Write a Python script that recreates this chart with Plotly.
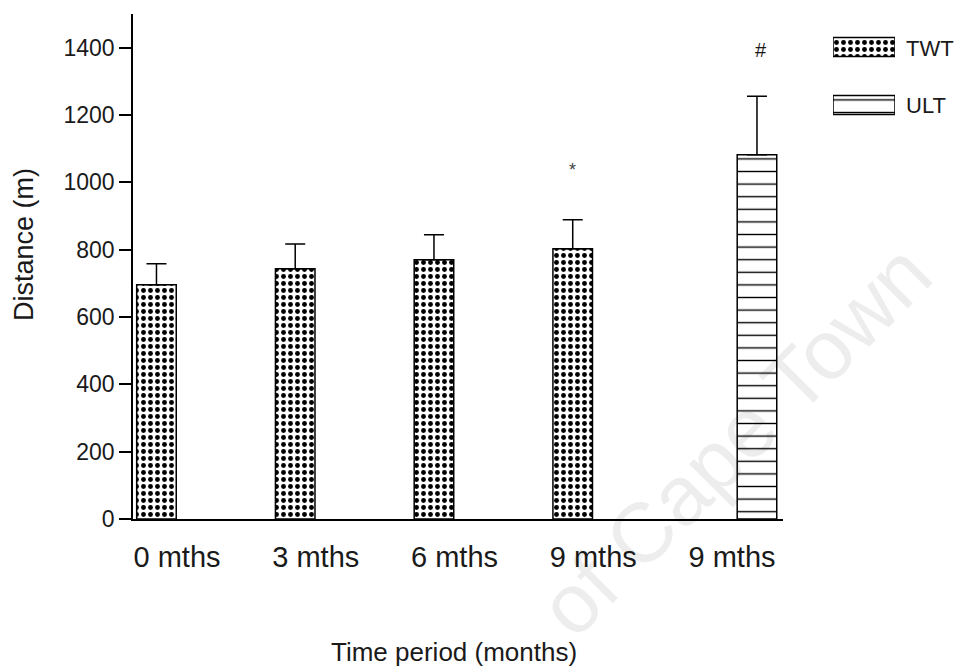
import plotly.graph_objects as go

# Walking distances by time period
periods = ["0 mths", "3 mths", "6 mths", "9 mths", "9 mths"]
twt_pos = [0, 1, 2, 3]
twt_mean = [696, 743, 770, 803]
twt_sd = [62, 74, 74, 86]
ult_pos = [4]
ult_mean = [1082]
ult_sd = [174]
y_ticks = [0, 200, 400, 600, 800, 1000, 1200, 1400]

W, H = 966, 670
L, R, T, B = 133, 5, 14, 151
PW, PH = W - L - R, H - T - B
X_END = 783  # right end of the main x axis line

BAR_W = 0.285          # bar width in category units
OFF_TWT = 0.148        # TWT bars sit left of their category centre
OFF_ULT = 0.18         # ULT bar sits right of its category centre

TEXT = "#1a1a1a"
FONT = "Liberation Sans, Arial, sans-serif"

def px_x(p):
    return (p - L) / PW

def px_y(p):
    return 1 - (p - T) / PH

dots = dict(shape=".", fgcolor="black", bgcolor="white", size=7, solidity=0.38, fillmode="replace")
lines = dict(shape="-", fgcolor="black", bgcolor="white", size=12.6, solidity=0.11, fillmode="replace")
outline = dict(color="black", width=1.5)

fig = go.Figure()

fig.add_trace(go.Bar(
    x=twt_pos, y=twt_mean, name="TWT",
    width=BAR_W, offset=-OFF_TWT - BAR_W / 2,
    marker=dict(color="white", line=outline, pattern=dots),
    error_y=dict(type="data", symmetric=False, array=twt_sd, arrayminus=[0] * len(twt_sd),
                 color="black", thickness=1.5, width=10),
    showlegend=False,
))
fig.add_trace(go.Bar(
    x=ult_pos, y=ult_mean, name="ULT",
    width=BAR_W, offset=OFF_ULT - BAR_W / 2,
    marker=dict(color="white", line=outline, pattern=lines),
    error_y=dict(type="data", symmetric=False, array=ult_sd, arrayminus=[0] * len(ult_sd),
                 color="black", thickness=1.5, width=10),
    showlegend=False,
))

# Key swatches on their own small axis pair
fig.add_trace(go.Bar(
    x=[1, 1], y=["TWT", "ULT"], orientation="h", width=0.33,
    xaxis="x2", yaxis="y2", showlegend=False, hoverinfo="skip",
    marker=dict(color="white", line=outline,
                pattern=dict(shape=[".", "-"], fgcolor="black", bgcolor="white",
                             size=[7, 12.6], solidity=[0.38, 0.11], fillmode="replace")),
))

annotations = [
    # axis titles
    dict(text="Distance (m)", xref="paper", yref="paper", x=px_x(24), y=px_y(245),
         textangle=-90, showarrow=False, font=dict(size=27, color=TEXT, family=FONT),
         xanchor="center", yanchor="middle"),
    dict(text="Time period (months)", xref="paper", yref="paper", x=px_x(454), y=px_y(652),
         showarrow=False, font=dict(size=26, color=TEXT, family=FONT),
         xanchor="center", yanchor="middle"),
    # key labels
    dict(text="TWT", xref="paper", yref="paper", x=px_x(904), y=px_y(48),
         showarrow=False, font=dict(size=22, color=TEXT, family=FONT),
         xanchor="left", yanchor="middle"),
    dict(text="ULT", xref="paper", yref="paper", x=px_x(904), y=px_y(106),
         showarrow=False, font=dict(size=22, color=TEXT, family=FONT),
         xanchor="left", yanchor="middle"),
    # significance marks
    dict(text="*", xref="x", yref="y", x=twt_pos[3] - OFF_TWT, y=twt_mean[3] + twt_sd[3] + 148,
         showarrow=False, font=dict(size=18, color="#444444", family=FONT),
         xanchor="center", yanchor="middle"),
    dict(text="#", xref="x", yref="y", x=ult_pos[0] + OFF_ULT + 0.03, y=ult_mean[0] + ult_sd[0] + 138,
         showarrow=False, font=dict(size=20, color=TEXT, family=FONT),
         xanchor="center", yanchor="middle"),
    # faint repository watermark
    dict(text="of Cape Town", xref="paper", yref="paper", x=px_x(735), y=px_y(440),
         textangle=-45, showarrow=False,
         font=dict(size=84, color="rgba(0,0,0,0.07)", family=FONT),
         xanchor="center", yanchor="middle"),
]

cat_px = 138.75
x_lo = -(177 - L) / cat_px
x_hi = x_lo + (X_END - L) / cat_px

fig.update_layout(
    width=W, height=H,
    margin=dict(l=L, r=R, t=T, b=B, pad=0),
    paper_bgcolor="white", plot_bgcolor="white",
    font=dict(family=FONT, color=TEXT),
    annotations=annotations,
    xaxis=dict(
        domain=[0, (X_END - L) / PW], range=[x_lo, x_hi],
        tickmode="array", tickvals=list(range(len(periods))), ticktext=periods,
        showline=True, linecolor="black", linewidth=1.5,
        ticks="outside", ticklen=11, tickcolor="rgba(0,0,0,0)",
        tickfont=dict(size=29, color=TEXT, family=FONT),
        showgrid=False, zeroline=False,
    ),
    yaxis=dict(
        range=[0, 1500], tickmode="array", tickvals=y_ticks,
        showline=True, linecolor="black", linewidth=1.5,
        ticks="outside", ticklen=12, tickwidth=1.5, tickcolor="black",
        tickfont=dict(size=23, color=TEXT, family=FONT),
        showgrid=False, zeroline=False,
    ),
    xaxis2=dict(domain=[px_x(833), px_x(895)], range=[0, 1], anchor="y2", visible=False),
    yaxis2=dict(domain=[px_y(134), px_y(18)], anchor="x2", visible=False,
                type="category", categoryorder="array", categoryarray=["ULT", "TWT"]),
)

fig.write_html("out.html")
